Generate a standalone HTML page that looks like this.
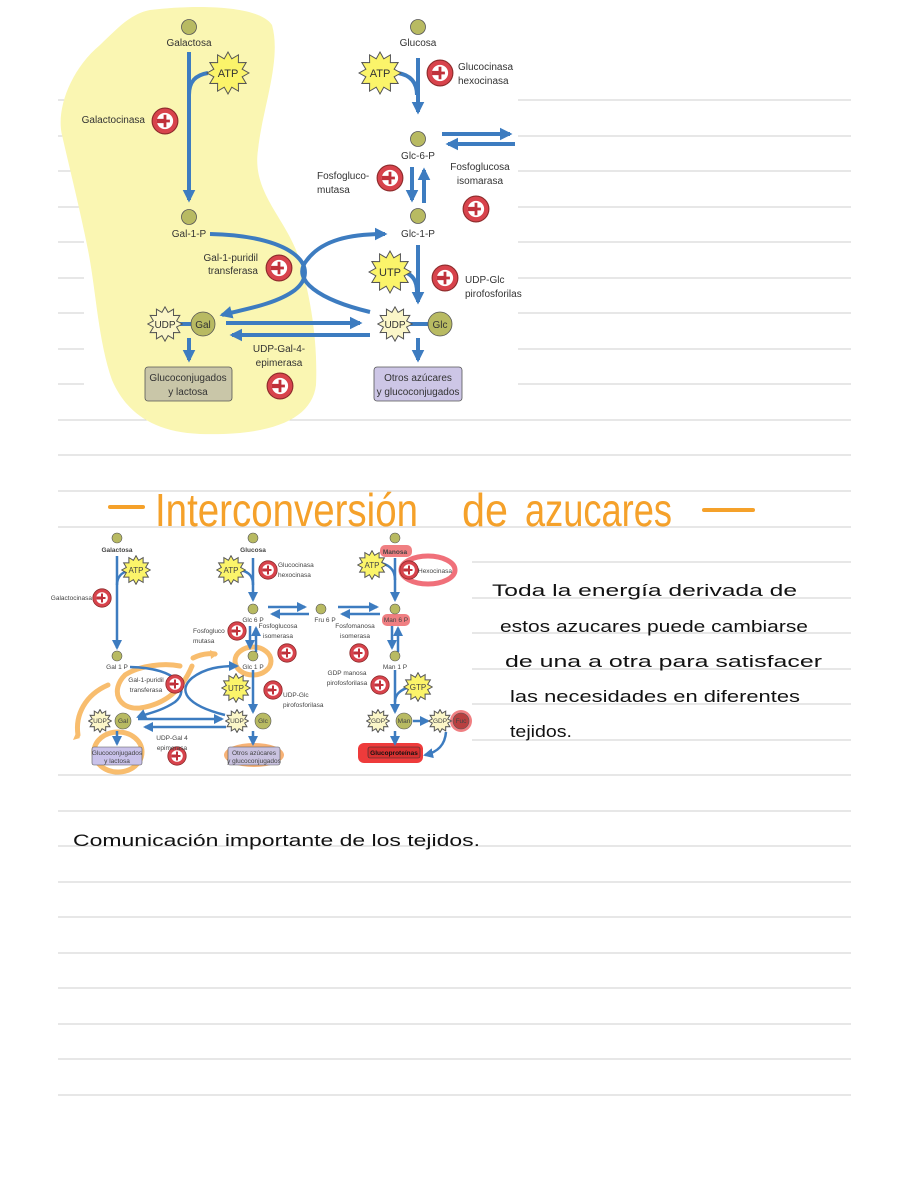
<!DOCTYPE html>
<html><head><meta charset="utf-8"><style>
html,body{margin:0;padding:0;background:#fff}
svg{display:block}
.lbl{font-family:"Liberation Sans",sans-serif;font-size:10px;fill:#333}
.sm{font-family:"Liberation Sans",sans-serif;font-size:6.5px;fill:#444}
.hw{font-family:"Liberation Sans",sans-serif;font-size:17px;fill:#111;font-weight:300}
</style></head><body>
<svg width="910" height="1177" viewBox="0 0 910 1177" xmlns="http://www.w3.org/2000/svg">
<defs>
<symbol id="star" viewBox="-1.05 -1.05 2.1 2.1"><polygon points="1,0 .676,.181 .866,.5 .495,.495 .5,.866 .181,.676 0,1 -.181,.676 -.5,.866 -.495,.495 -.866,.5 -.676,.181 -1,0 -.676,-.181 -.866,-.5 -.495,-.495 -.5,-.866 -.181,-.676 0,-1 .181,-.676 .5,-.866 .495,-.495 .866,-.5 .676,-.181" fill="#fbf46a" stroke="#555" stroke-width="1" vector-effect="non-scaling-stroke"/></symbol>
<symbol id="starp" viewBox="-1.05 -1.05 2.1 2.1"><polygon points="1,0 .676,.181 .866,.5 .495,.495 .5,.866 .181,.676 0,1 -.181,.676 -.5,.866 -.495,.495 -.866,.5 -.676,.181 -1,0 -.676,-.181 -.866,-.5 -.495,-.495 -.5,-.866 -.181,-.676 0,-1 .181,-.676 .5,-.866 .495,-.495 .866,-.5 .676,-.181" fill="#fbf6c8" stroke="#555" stroke-width="1" vector-effect="non-scaling-stroke"/></symbol>
<symbol id="enz" viewBox="-1 -1 2 2"><circle r=".92" fill="#d8434c" stroke="#8c2a2a" stroke-width=".08"/><circle r=".58" fill="#fff"/><path d="M-.58,-.15 L-.1,-.15 L-.1,-.45 L.1,-.45 L.1,-.1 L.35,-.1 L.35,.1 L.1,.1 L.1,.45 L-.1,.45 L-.1,.15 L-.58,.15 Z" fill="#c0303a"/></symbol>
<marker id="ah" viewBox="0 0 10 10" refX="8" refY="5" markerWidth="3.2" markerHeight="3.2" orient="auto"><path d="M0,0 L10,5 L0,10 Z" fill="#3d7cc0"/></marker>
<marker id="ah2" viewBox="0 0 10 10" refX="8" refY="5" markerWidth="4" markerHeight="4" orient="auto"><path d="M0,0 L10,5 L0,10 Z" fill="#3d7cc0"/></marker>
</defs>

<!-- notebook lines -->
<g stroke="#cfcfcf" stroke-width="1">
<line x1="58" y1="100" x2="851" y2="100"/><line x1="58" y1="136" x2="851" y2="136"/><line x1="58" y1="171" x2="851" y2="171"/><line x1="58" y1="207" x2="851" y2="207"/><line x1="58" y1="242" x2="851" y2="242"/><line x1="58" y1="278" x2="851" y2="278"/><line x1="58" y1="313" x2="851" y2="313"/><line x1="58" y1="349" x2="851" y2="349"/><line x1="58" y1="384" x2="851" y2="384"/><line x1="58" y1="420" x2="851" y2="420"/><line x1="58" y1="455" x2="851" y2="455"/><line x1="58" y1="491" x2="851" y2="491"/><line x1="58" y1="527" x2="851" y2="527"/><line x1="58" y1="562" x2="851" y2="562"/><line x1="58" y1="598" x2="851" y2="598"/><line x1="58" y1="633" x2="851" y2="633"/><line x1="58" y1="669" x2="851" y2="669"/><line x1="58" y1="704" x2="851" y2="704"/><line x1="58" y1="740" x2="851" y2="740"/><line x1="58" y1="775" x2="851" y2="775"/><line x1="58" y1="811" x2="851" y2="811"/><line x1="58" y1="846" x2="851" y2="846"/><line x1="58" y1="882" x2="851" y2="882"/><line x1="58" y1="917" x2="851" y2="917"/><line x1="58" y1="953" x2="851" y2="953"/><line x1="58" y1="988" x2="851" y2="988"/><line x1="58" y1="1024" x2="851" y2="1024"/><line x1="58" y1="1059" x2="851" y2="1059"/><line x1="58" y1="1095" x2="851" y2="1095"/>
</g>

<!-- TOP DIAGRAM -->
<rect x="84" y="0" width="434" height="417" fill="#fff"/>
<path d="M150,10 C200,4 260,6 272,25 C282,60 262,110 258,150 C252,190 282,215 296,250 C310,290 318,340 316,385 C312,420 270,436 200,434 C150,432 125,410 112,380 C98,340 96,290 88,250 C80,210 70,170 62,135 C56,110 70,70 100,45 C118,28 130,14 150,10 Z" fill="#faf6b2"/>

<g fill="none" stroke="#3d7cc0" stroke-width="4">
<line x1="189" y1="52" x2="189" y2="200" marker-end="url(#ah)"/>
<path d="M208,73 C195,75 189,82 189,95"/>
<line x1="418" y1="58" x2="418" y2="112" marker-end="url(#ah)"/>
<path d="M398,73 C410,75 417,82 417,95"/>
<line x1="442" y1="134" x2="510" y2="134" marker-end="url(#ah)"/>
<line x1="515" y1="144" x2="448" y2="144" marker-end="url(#ah)"/>
<line x1="412" y1="167" x2="412" y2="200" marker-end="url(#ah)"/>
<line x1="424" y1="203" x2="424" y2="170" marker-end="url(#ah)"/>
<path d="M210,234 C300,236 320,270 295,290 C275,305 240,310 222,315" marker-end="url(#ah)"/>
<path d="M370,312 C320,300 290,280 307,260 C322,240 350,234 385,234" marker-end="url(#ah)"/>
<line x1="418" y1="245" x2="418" y2="302" marker-end="url(#ah)"/>
<path d="M405,272 C412,275 417,280 417,292"/>
<line x1="226" y1="323" x2="360" y2="323" marker-end="url(#ah)"/>
<line x1="370" y1="335" x2="232" y2="335" marker-end="url(#ah)"/>
<line x1="189" y1="338" x2="189" y2="360" marker-end="url(#ah)"/>
<line x1="418" y1="338" x2="418" y2="360" marker-end="url(#ah)"/>
<line x1="180" y1="324" x2="192" y2="324"/><line x1="408" y1="324" x2="428" y2="324"/>
</g>
<g fill="#b8ba62" stroke="#555" stroke-width="0.8">
<circle cx="189" cy="27" r="7.5"/><circle cx="418" cy="27" r="7.5"/><circle cx="418" cy="139" r="7.5"/><circle cx="189" cy="217" r="7.5"/><circle cx="418" cy="216" r="7.5"/><circle cx="203" cy="324" r="12"/><circle cx="440" cy="324" r="12"/>
</g>
<use href="#star" x="206" y="51" width="44" height="44"/>
<use href="#star" x="358" y="51" width="44" height="44"/>
<use href="#star" x="368" y="250" width="44" height="44"/>
<use href="#starp" x="147" y="306" width="36" height="36"/>
<use href="#starp" x="377" y="306" width="36" height="36"/>
<g>
<use href="#enz" x="151" y="107" width="28" height="28"/>
<use href="#enz" x="426" y="59" width="28" height="28"/>
<use href="#enz" x="376" y="164" width="28" height="28"/>
<use href="#enz" x="462" y="195" width="28" height="28"/>
<use href="#enz" x="265" y="254" width="28" height="28"/>
<use href="#enz" x="431" y="264" width="28" height="28"/>
<use href="#enz" x="266" y="372" width="28" height="28"/>
</g>
<g class="lbl">
<text x="189" y="46" text-anchor="middle">Galactosa</text>
<text x="418" y="46" text-anchor="middle">Glucosa</text>
<text x="228" y="77" text-anchor="middle" font-size="11">ATP</text>
<text x="380" y="77" text-anchor="middle" font-size="11">ATP</text>
<text x="458" y="70">Glucocinasa</text><text x="458" y="84">hexocinasa</text>
<text x="145" y="123" text-anchor="end">Galactocinasa</text>
<text x="418" y="159" text-anchor="middle">Glc-6-P</text>
<text x="317" y="179">Fosfogluco-</text><text x="317" y="193">mutasa</text>
<text x="480" y="170" text-anchor="middle">Fosfoglucosa</text><text x="480" y="184" text-anchor="middle">isomarasa</text>
<text x="189" y="237" text-anchor="middle">Gal-1-P</text>
<text x="418" y="237" text-anchor="middle">Glc-1-P</text>
<text x="258" y="261" text-anchor="end">Gal-1-puridil</text><text x="258" y="274" text-anchor="end">transferasa</text>
<text x="390" y="276" text-anchor="middle" font-size="11">UTP</text>
<text x="465" y="283">UDP-Glc</text><text x="465" y="297">pirofosforilas</text>
<text x="165" y="328" text-anchor="middle">UDP</text><text x="203" y="328" text-anchor="middle">Gal</text>
<text x="395" y="328" text-anchor="middle">UDP</text><text x="440" y="328" text-anchor="middle">Glc</text>
<text x="279" y="352" text-anchor="middle">UDP-Gal-4-</text><text x="279" y="366" text-anchor="middle">epimerasa</text>
</g>
<rect x="145" y="367" width="87" height="34" rx="3" fill="#c9c6a8" stroke="#555" stroke-width="0.8"/>
<rect x="374" y="367" width="88" height="34" rx="3" fill="#cdc6e6" stroke="#555" stroke-width="0.8"/>
<g class="lbl" text-anchor="middle"><text x="188" y="381">Glucoconjugados</text><text x="188" y="395">y lactosa</text><text x="418" y="381">Otros azúcares</text><text x="418" y="395">y glucoconjugados</text></g>

<!-- TITLE -->
<g fill="none" stroke="#f5a12a" stroke-width="4" stroke-linecap="round">
<line x1="110" y1="507" x2="143" y2="507"/><line x1="704" y1="510" x2="753" y2="510"/>
</g>
<text x="155" y="526" font-family="Liberation Sans,sans-serif" font-size="46" fill="#f5a12a" textLength="263" lengthAdjust="spacingAndGlyphs">Interconversión</text>
<text x="462" y="526" font-family="Liberation Sans,sans-serif" font-size="46" fill="#f5a12a" textLength="46" lengthAdjust="spacingAndGlyphs">de</text>
<text x="525" y="526" font-family="Liberation Sans,sans-serif" font-size="46" fill="#f5a12a" textLength="147" lengthAdjust="spacingAndGlyphs">azucares</text>

<!-- SECOND DIAGRAM -->
<rect x="40" y="533" width="432" height="240" fill="#fff"/>
<!-- highlights -->
<g fill="none" stroke-linecap="round">
<path d="M192,666 C180,695 160,705 140,708 C118,710 110,690 125,675 C140,665 165,663 180,666" stroke="#f8bd6e" stroke-width="5"/>
<ellipse cx="118" cy="752" rx="24" ry="20" stroke="#f8bd6e" stroke-width="5"/>
<path d="M108,685 C85,695 75,715 78,735" stroke="#f8bd6e" stroke-width="5"/>
<path d="M193,658 C205,652 215,654 215,654" stroke="#f8bd6e" stroke-width="5"/>
<ellipse cx="253" cy="661" rx="18" ry="14" stroke="#f8bd6e" stroke-width="5"/>
<ellipse cx="428" cy="570" rx="27" ry="14" stroke="#f0707a" stroke-width="5"/>
</g>
<path d="M76,733 L73,740 L80,738 Z" fill="#f8bd6e"/>
<path d="M210,650 L218,654 L211,659 Z" fill="#f8bd6e"/>
<ellipse cx="254" cy="755" rx="30" ry="12" fill="#f7b276"/>
<rect x="380" y="545" width="32" height="12" rx="5" fill="#f07f82"/>
<rect x="382" y="614" width="28" height="12" rx="5" fill="#f07f82"/>
<rect x="358" y="743" width="65" height="20" rx="6" fill="#ee3b3b"/>
<circle cx="461" cy="721" r="11" fill="#f07f82"/>
<g fill="none" stroke="#3d7cc0" stroke-width="2.5">
<line x1="117" y1="556" x2="117" y2="648" marker-end="url(#ah2)"/>
<path d="M131,570 C121,572 117,577 117,585"/>
<line x1="253" y1="558" x2="253" y2="600" marker-end="url(#ah2)"/>
<path d="M240,570 C250,572 253,577 253,585"/>
<line x1="395" y1="558" x2="395" y2="600" marker-end="url(#ah2)"/>
<path d="M381,563 C392,566 395,572 395,580"/>
<line x1="268" y1="607" x2="305" y2="607" marker-end="url(#ah2)"/>
<line x1="309" y1="614" x2="272" y2="614" marker-end="url(#ah2)"/>
<line x1="338" y1="607" x2="377" y2="607" marker-end="url(#ah2)"/>
<line x1="380" y1="614" x2="342" y2="614" marker-end="url(#ah2)"/>
<line x1="250" y1="626" x2="250" y2="648" marker-end="url(#ah2)"/>
<line x1="256" y1="652" x2="256" y2="628" marker-end="url(#ah2)"/>
<line x1="392" y1="626" x2="392" y2="648" marker-end="url(#ah2)"/>
<line x1="398" y1="652" x2="398" y2="628" marker-end="url(#ah2)"/>
<path d="M130,667 C180,668 190,690 175,702 C160,712 145,714 138,717" marker-end="url(#ah2)"/>
<path d="M225,715 C185,705 178,690 192,678 C205,668 220,666 237,666" marker-end="url(#ah2)"/>
<line x1="253" y1="670" x2="253" y2="712" marker-end="url(#ah2)"/>
<line x1="395" y1="670" x2="395" y2="712" marker-end="url(#ah2)"/>
<path d="M410,687 C399,690 395,695 395,702"/>
<line x1="138" y1="719" x2="222" y2="719" marker-end="url(#ah2)"/>
<line x1="226" y1="727" x2="145" y2="727" marker-end="url(#ah2)"/>
<line x1="117" y1="731" x2="117" y2="744" marker-end="url(#ah2)"/>
<line x1="253" y1="731" x2="253" y2="744" marker-end="url(#ah2)"/>
<line x1="395" y1="731" x2="395" y2="744" marker-end="url(#ah2)"/>
<line x1="413" y1="721" x2="428" y2="721" marker-end="url(#ah2)"/>
<path d="M446,732 C445,745 438,752 425,755" marker-end="url(#ah2)"/>
</g>
<g fill="#b8ba62" stroke="#555" stroke-width="0.6">
<circle cx="117" cy="538" r="5"/><circle cx="253" cy="538" r="5"/><circle cx="395" cy="538" r="5"/>
<circle cx="253" cy="609" r="5"/><circle cx="321" cy="609" r="5"/><circle cx="395" cy="609" r="5"/>
<circle cx="117" cy="656" r="5"/><circle cx="253" cy="656" r="5"/><circle cx="395" cy="656" r="5"/>
<circle cx="123" cy="721" r="8"/><circle cx="263" cy="721" r="8"/><circle cx="404" cy="721" r="8"/>
</g>
<circle cx="461" cy="721" r="8" fill="#b84040" stroke="#555" stroke-width="0.6"/>
<use href="#star" x="121" y="555" width="30" height="30"/>
<use href="#star" x="216" y="555" width="30" height="30"/>
<use href="#star" x="357" y="550" width="30" height="30"/>
<use href="#star" x="221" y="673" width="30" height="30"/>
<use href="#star" x="403" y="672" width="30" height="30"/>
<use href="#starp" x="88" y="709" width="24" height="24"/>
<use href="#starp" x="225" y="709" width="24" height="24"/>
<use href="#starp" x="366" y="709" width="24" height="24"/>
<use href="#starp" x="428" y="709" width="24" height="24"/>
<g>
<use href="#enz" x="92" y="588" width="20" height="20"/>
<use href="#enz" x="258" y="560" width="20" height="20"/>
<use href="#enz" x="399" y="560" width="20" height="20"/>
<use href="#enz" x="227" y="621" width="20" height="20"/>
<use href="#enz" x="277" y="643" width="20" height="20"/>
<use href="#enz" x="349" y="643" width="20" height="20"/>
<use href="#enz" x="165" y="674" width="20" height="20"/>
<use href="#enz" x="263" y="680" width="20" height="20"/>
<use href="#enz" x="370" y="675" width="20" height="20"/>
<use href="#enz" x="167" y="746" width="20" height="20"/>
</g>
<rect x="92" y="747" width="50" height="18" rx="2" fill="#c9c2ea" stroke="#555" stroke-width="0.6"/>
<rect x="228" y="747" width="52" height="18" rx="2" fill="#c9c2e0" stroke="#555" stroke-width="0.6"/>
<rect x="368" y="747" width="52" height="11" rx="2" fill="#d83030" stroke="#333" stroke-width="0.6"/>
<g class="sm">
<text x="117" y="552" text-anchor="middle" font-weight="bold">Galactosa</text>
<text x="253" y="552" text-anchor="middle" font-weight="bold">Glucosa</text>
<text x="395" y="554" text-anchor="middle" font-weight="bold">Manosa</text>
<text x="136" y="573" text-anchor="middle" font-size="8">ATP</text>
<text x="231" y="573" text-anchor="middle" font-size="8">ATP</text>
<text x="372" y="568" text-anchor="middle" font-size="8">ATP</text>
<text x="278" y="567">Glucocinasa</text><text x="278" y="577">hexocinasa</text>
<text x="418" y="573">Hexocinasa</text>
<text x="92" y="600" text-anchor="end">Galactocinasa</text>
<text x="253" y="622" text-anchor="middle">Glc 6 P</text>
<text x="325" y="622" text-anchor="middle">Fru 6 P</text>
<text x="396" y="622" text-anchor="middle">Man 6 P</text>
<text x="193" y="633">Fosfogluco</text><text x="193" y="643">mutasa</text>
<text x="278" y="628" text-anchor="middle">Fosfoglucosa</text><text x="278" y="638" text-anchor="middle">isomerasa</text>
<text x="355" y="628" text-anchor="middle">Fosfomanosa</text><text x="355" y="638" text-anchor="middle">isomerasa</text>
<text x="117" y="669" text-anchor="middle">Gal 1 P</text>
<text x="253" y="669" text-anchor="middle">Glc 1 P</text>
<text x="395" y="669" text-anchor="middle">Man 1 P</text>
<text x="146" y="682" text-anchor="middle">Gal-1-puridil</text><text x="146" y="692" text-anchor="middle">transferasa</text>
<text x="347" y="675" text-anchor="middle">GDP manosa</text><text x="347" y="685" text-anchor="middle">pirofosforilasa</text>
<text x="236" y="691" text-anchor="middle" font-size="8">UTP</text>
<text x="418" y="690" text-anchor="middle" font-size="8">GTP</text>
<text x="283" y="697">UDP-Glc</text><text x="283" y="707">pirofosforilasa</text>
<text x="100" y="723" text-anchor="middle">UDP</text><text x="123" y="723" text-anchor="middle">Gal</text>
<text x="237" y="723" text-anchor="middle">UDP</text><text x="263" y="723" text-anchor="middle">Glc</text>
<text x="378" y="723" text-anchor="middle">GDP</text><text x="404" y="723" text-anchor="middle">Man</text>
<text x="440" y="723" text-anchor="middle">GDP</text><text x="461" y="723" text-anchor="middle">Fuc</text>
<text x="172" y="740" text-anchor="middle">UDP-Gal 4</text><text x="172" y="750" text-anchor="middle">epimerasa</text>
<text x="117" y="755" text-anchor="middle">Glucoconjugados</text><text x="117" y="763" text-anchor="middle">y lactosa</text>
<text x="254" y="755" text-anchor="middle">Otros azúcares</text><text x="254" y="763" text-anchor="middle">y glucoconjugados</text>
<text x="394" y="755" text-anchor="middle" fill="#111" font-weight="bold">Glucoproteínas</text>
</g>

<!-- handwritten text -->
<g class="hw">
<text x="492" y="596" textLength="305" lengthAdjust="spacingAndGlyphs">Toda la energía derivada de</text>
<text x="500" y="632" textLength="308" lengthAdjust="spacingAndGlyphs">estos azucares puede cambiarse</text>
<text x="505" y="667" textLength="317" lengthAdjust="spacingAndGlyphs">de una a otra para satisfacer</text>
<text x="510" y="702" textLength="290" lengthAdjust="spacingAndGlyphs">las necesidades en diferentes</text>
<text x="510" y="737" textLength="62" lengthAdjust="spacingAndGlyphs">tejidos.</text>
<text x="73" y="846" textLength="407" lengthAdjust="spacingAndGlyphs">Comunicación importante de los tejidos.</text>
</g>
</svg>
</body></html>
